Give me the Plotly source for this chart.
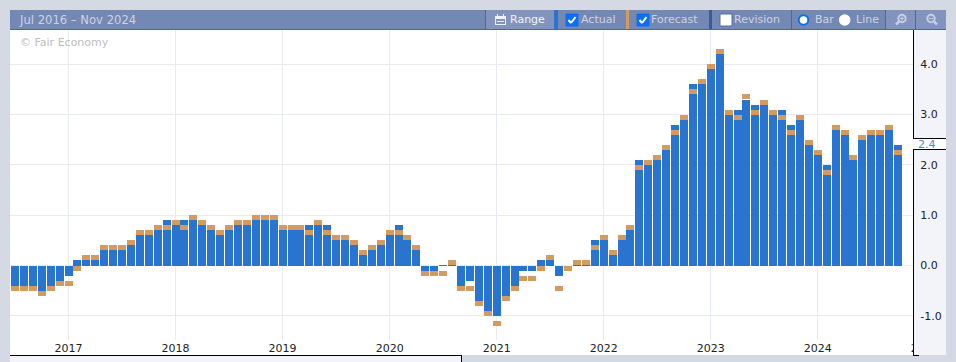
import plotly.graph_objects as go

W, H = 956, 362

months = [f"{y}-{m:02d}" for y in range(2016, 2025) for m in range(1, 13)]
months = months[months.index("2016-07"):months.index("2024-10") + 1]

actual = [
    -0.5, -0.5, -0.5, -0.5, -0.4, -0.4,
    -0.2, 0.1, 0.1, 0.1, 0.3, 0.3, 0.3, 0.4, 0.6, 0.6, 0.7, 0.9,
    0.8, 0.9, 0.9, 0.8, 0.7, 0.6, 0.7, 0.8, 0.8, 0.9, 0.9, 0.9,
    0.7, 0.7, 0.7, 0.8, 0.8, 0.8, 0.5, 0.5, 0.4, 0.2, 0.3, 0.4,
    0.6, 0.8, 0.5, 0.3, -0.2, -0.2, 0.01, 0.01, -0.4, -0.3, -0.7, -0.9,
    -1.0, -0.6, -0.4, -0.1, -0.1, 0.1, 0.1, -0.2, 0.0, 0.03, 0.03, 0.5,
    0.5, 0.2, 0.5, 0.7, 2.1, 2.0, 2.1, 2.3, 2.8, 2.9, 3.6, 3.6,
    3.9, 4.2, 3.0, 3.1, 3.3, 3.2, 3.2, 3.0, 3.1, 2.8, 2.9, 2.4,
    2.2, 2.0, 2.7, 2.6, 2.1, 2.5, 2.6, 2.6, 2.7, 2.4,
]
forecast = [
    -0.4, -0.4, -0.4, -0.5, -0.4, -0.3,
    -0.3, 0.0, 0.2, 0.2, 0.4, 0.4, 0.4, 0.5, 0.7, 0.7, 0.8, 0.8,
    0.9, 0.8, 1.0, 0.9, 0.8, 0.7, 0.8, 0.9, 0.9, 1.0, 1.0, 1.0,
    0.8, 0.8, 0.8, 0.7, 0.9, 0.7, 0.6, 0.6, 0.5, 0.3, 0.4, 0.5,
    0.7, 0.7, 0.6, 0.4, -0.1, -0.1, -0.1, 0.1, -0.4, -0.4, -0.7, -0.9,
    -1.1, -0.6, -0.4, -0.2, -0.2, 0.0, 0.2, -0.4, 0.0, 0.1, 0.1, 0.4,
    0.6, 0.3, 0.6, 0.8, 2.0, 2.1, 2.2, 2.4, 2.7, 3.0, 3.5, 3.7,
    4.0, 4.3, 3.1, 3.0, 3.4, 3.1, 3.3, 3.1, 3.0, 2.7, 3.0, 2.5,
    2.3, 1.9, 2.8, 2.7, 2.2, 2.6, 2.7, 2.7, 2.8, 2.3,
]
year_labels = ["2017", "2018", "2019", "2020", "2021", "2022", "2023", "2024"]
y_ticks = [-1.0, 0.0, 1.0, 2.0, 3.0, 4.0]
latest_label = "2.4"

BG = "#d4d9e3"
STRIP = "#f3f4f9"
HEAD = "#7488b4"
HEAD_LIGHT = "#8294bd"
HEAD_DARK = "#4f6699"
HEAD_TEXT = "#ccd3e3"
BLUE = "#2874cf"
ORANGE = "#d39b5f"
GRID = "#e9ebf3"
FONT = "DejaVu Sans"

# pixel geometry of the frame
PLOT_L, PLOT_R, PLOT_T, PLOT_B, FRAME_B = 10, 913, 30, 340, 355
CENTER0, STEP = 15.0, 8.92
ZERO_Y, UNIT = 265.5, 50.3
MARK_H = 5 / UNIT


def px(v):
    return v / W


def py(v):
    return 1 - v / H


def idx_at(p):
    return (p - CENTER0) / STEP


def val_at(p):
    return (ZERO_Y - p) / UNIT


x = list(range(len(months)))
year_ticks = [months.index(f"{y}-01") for y in year_labels]

fig = go.Figure()
fig.add_bar(x=x, y=actual, width=0.9, marker=dict(color=BLUE, line=dict(width=0)),
            name="Actual", hoverinfo="skip")
fig.add_bar(x=x, y=[MARK_H] * len(forecast), base=[f - MARK_H for f in forecast],
            width=0.9, marker=dict(color=ORANGE, line=dict(width=0)),
            name="Forecast", hoverinfo="skip")
fig.add_scatter(x=[], y=[], xaxis="x2", yaxis="y2", showlegend=False)

shapes, notes = [], []


def rect(x0, y0, x1, y1, fill, layer="above"):
    shapes.append(dict(type="rect", xref="paper", yref="paper", layer=layer,
                       x0=px(x0), x1=px(x1), y0=py(y0), y1=py(y1),
                       fillcolor=fill, line=dict(width=0)))


def circle(cx, cy, r, fill, line=None, lw=0):
    shapes.append(dict(type="circle", xref="paper", yref="paper", layer="above",
                       x0=px(cx - r), x1=px(cx + r), y0=py(cy - r), y1=py(cy + r),
                       fillcolor=fill, line=dict(width=lw, color=line or fill)))


def seg(x0, y0, x1, y1, color, lw=1.5):
    shapes.append(dict(type="line", xref="paper", yref="paper", layer="above",
                       x0=px(x0), x1=px(x1), y0=py(y0), y1=py(y1),
                       line=dict(color=color, width=lw)))


def text(s, x0, cy, color=HEAD_TEXT, size=11, anchor="left"):
    notes.append(dict(text=s, xref="paper", yref="paper", x=px(x0 - 2), y=py(cy),
                      xanchor=anchor, yanchor="middle", showarrow=False,
                      font=dict(family=FONT, size=size, color=color)))


# frame backgrounds
rect(PLOT_L, PLOT_T, PLOT_R, FRAME_B, "#ffffff", "below")
rect(914, 30, 946, FRAME_B, STRIP, "below")
rect(10, FRAME_B, 461, H, STRIP, "below")
rect(905, 139, 946, 149, "#ffffff", "below")

# hides the part of the next year's label that falls past the axis
rect(914, 340, 946, FRAME_B, STRIP)
rect(946, 340, 956, FRAME_B, BG)

# black frame lines
rect(913, 30, 914, 138, "#000000")
rect(913, 138, 946, 139, "#000000")
rect(913, 149, 946, 150, "#000000")
rect(913, 149, 914, FRAME_B, "#000000")
rect(913, FRAME_B, 919, FRAME_B + 1, "#000000")
rect(10, FRAME_B, 462, FRAME_B + 1, "#000000")
rect(461, FRAME_B, 462, H, "#000000")

# toolbar
rect(10, 10, 946, 30, HEAD)
rect(10, 29, 946, 30, HEAD_DARK)
rect(485, 10, 554, 29, HEAD_LIGHT)
rect(485, 10, 486, 29, HEAD_DARK)
rect(554, 10, 558, 29, BLUE)
rect(626, 10, 629, 29, ORANGE)
rect(709, 10, 712, 29, "#3b5a98")
rect(791, 10, 792, 29, HEAD_DARK)
rect(885, 10, 886, 29, HEAD_DARK)
rect(886, 10, 915, 29, HEAD_LIGHT)
rect(915, 10, 916, 29, HEAD_DARK)
rect(916, 10, 946, 29, HEAD_LIGHT)

# range icon
rect(495, 16, 506, 25, "#eef1f7")
rect(496, 19, 505, 24, HEAD_LIGHT)
rect(497, 14, 498, 18, "#eef1f7")
rect(503, 14, 504, 18, "#eef1f7")
rect(497, 21, 504, 22, "#eef1f7")


def checkbox(x0, checked):
    shapes.append(dict(type="rect", xref="paper", yref="paper", layer="above",
                       x0=px(x0), x1=px(x0 + 12), y0=py(14), y1=py(26),
                       fillcolor="#0b6ff0" if checked else "#ffffff",
                       line=dict(width=1, color="#0b6ff0" if checked else "#5f6f8f")))
    if checked:
        seg(x0 + 2.5, 20, x0 + 5, 23, "#ffffff", 2)
        seg(x0 + 5, 23, x0 + 9.5, 17, "#ffffff", 2)


checkbox(566, True)
checkbox(637, True)
checkbox(720, False)

# radios
circle(803.5, 20, 4.8, "#ffffff", "#0b6ff0", 2)
circle(844.7, 20, 5.8, "#ffffff")

# magnifiers
ICON = "#c6cfe2"
circle(902, 18.5, 3.7, "rgba(0,0,0,0)", ICON, 2)
seg(899, 21.5, 896, 24.5, ICON, 2.5)
seg(900, 18.5, 904, 18.5, ICON, 1)
seg(902, 16.5, 902, 20.5, ICON, 1)
circle(931, 18.5, 3.7, "rgba(0,0,0,0)", ICON, 2)
seg(934, 21.5, 937, 24.5, ICON, 2.5)
seg(929, 18.5, 933, 18.5, ICON, 1)

text("Jul 2016 – Nov 2024", 19, 20, size=11.6)
text("Range", 510, 20, "#f2f4f9", 11)
text("Actual", 580.5, 20)
text("Forecast", 651, 20)
text("Revision", 734, 20)
text("Bar", 815, 20)
text("Line", 856, 20)
text("© Fair Economy", 20, 43, "#bdbdbd")
text(latest_label, 918, 144, "#4a87dc")

tick_font = dict(family=FONT, size=11, color="#222222")
next_year_tick = len(months) + 2  # January following the last month shown

fig.update_layout(
    width=W, height=H, autosize=False,
    margin=dict(l=0, r=0, t=0, b=0),
    paper_bgcolor=BG, plot_bgcolor="rgba(0,0,0,0)",
    barmode="overlay", bargap=0, showlegend=False,
    shapes=shapes, annotations=notes,
    xaxis=dict(domain=[px(PLOT_L), px(PLOT_R)],
               range=[idx_at(PLOT_L), idx_at(PLOT_R)],
               tickmode="array", tickvals=year_ticks, ticktext=year_labels,
               ticks="outside", ticklen=1, tickcolor="rgba(0,0,0,0)",
               ticklabelstandoff=-3,
               showgrid=True, gridcolor=GRID, gridwidth=1, zeroline=False,
               showline=False, tickfont=tick_font, automargin=False),
    xaxis2=dict(domain=[px(PLOT_L), px(946)], anchor="y2",
                range=[idx_at(PLOT_L), idx_at(946)],
                tickmode="array", tickvals=[next_year_tick], ticktext=["2025"],
                ticks="outside", ticklen=1, tickcolor="rgba(0,0,0,0)",
                ticklabelstandoff=-3,
                showgrid=False, zeroline=False, showline=False,
                tickfont=tick_font, automargin=False),
    yaxis=dict(domain=[py(PLOT_B), py(PLOT_T)], side="right",
               range=[val_at(PLOT_B), val_at(PLOT_T)],
               tickmode="array", tickvals=y_ticks,
               ticktext=[f"{v:.1f}" for v in y_ticks],
               ticks="outside", ticklen=4, tickcolor="rgba(0,0,0,0)",
               showgrid=True, gridcolor=GRID, gridwidth=1, zeroline=False,
               showline=False, tickfont=tick_font, automargin=False),
    yaxis2=dict(domain=[py(PLOT_B), py(PLOT_T)], anchor="x2",
                range=[val_at(PLOT_B), val_at(PLOT_T)], visible=False),
)

fig.write_html("out.html", config={"displayModeBar": False},
               post_script="document.body.style.margin='0';document.body.style.overflow='hidden';")
